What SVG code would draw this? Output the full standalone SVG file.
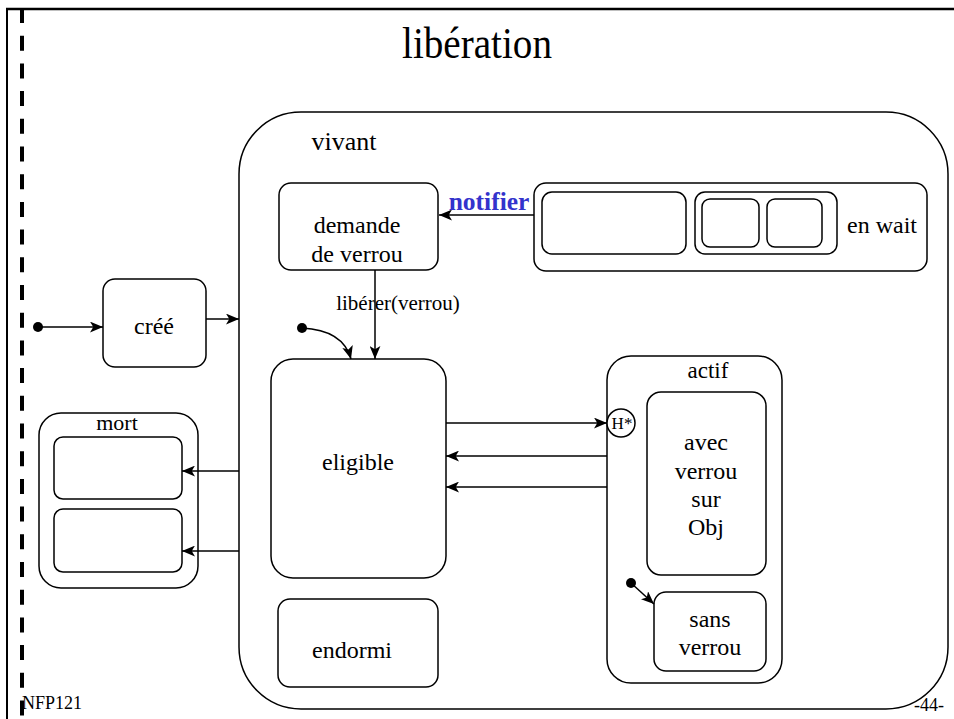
<svg xmlns="http://www.w3.org/2000/svg" width="954" height="719" viewBox="0 0 954 719">
<style>
.box{fill:none;stroke:#000;stroke-width:1.5}
.ln{fill:none;stroke:#000;stroke-width:1.5}
.t{font-family:"Liberation Serif","Times New Roman",serif;font-size:24px;fill:#000;text-anchor:middle}
.dot{fill:#000}
</style>
<defs>
<marker id="ah" viewBox="0 0 12 10" refX="12" refY="5" markerWidth="13" markerHeight="11" markerUnits="userSpaceOnUse" orient="auto">
<path d="M0,0 L12,5 L0,10 L3,5 z" fill="#000"/>
</marker>
</defs>
<rect width="954" height="719" fill="#fff"/>
<g id="frame" font-family="Liberation Serif, Times New Roman, serif">
<line x1="6" y1="9" x2="954" y2="9" stroke="#000" stroke-width="2.5"/>
<line x1="7" y1="8" x2="7" y2="719" stroke="#000" stroke-width="2"/>
<line x1="22" y1="10" x2="22" y2="719" stroke="#000" stroke-width="4" stroke-dasharray="15 12.7" stroke-dashoffset="2"/>
<text x="477" y="58" class="t" style="font-size:44px" textLength="150" lengthAdjust="spacingAndGlyphs">libération</text>
<text x="22" y="709" font-size="18">NFP121</text>
<text x="914" y="711" font-size="18">-44-</text>
</g>
<g id="vivant">
<rect class="box" x="239" y="112" width="709" height="597" rx="62"/>
<text class="t" x="344" y="150" style="font-size:26px">vivant</text>
</g>
<g id="cree">
<rect class="box" x="103" y="279" width="103" height="88" rx="12"/>
<text class="t" x="154" y="334">créé</text>
</g>
<g id="demande">
<rect class="box" x="279" y="183" width="159" height="87" rx="12"/>
<text class="t" x="357" y="233">demande</text>
<text class="t" x="357" y="262">de verrou</text>
</g>
<g id="enwait">
<rect class="box" x="534" y="183" width="393" height="88" rx="12"/>
<rect class="box" x="542" y="192" width="144" height="62" rx="10"/>
<rect class="box" x="695" y="192" width="142" height="62" rx="10"/>
<rect class="box" x="702" y="199" width="57" height="48" rx="8"/>
<rect class="box" x="767" y="199" width="55" height="48" rx="8"/>
<text class="t" x="882" y="233">en wait</text>
</g>
<g id="eligible">
<rect class="box" x="271" y="359" width="175" height="219" rx="22"/>
<text class="t" x="358" y="470">eligible</text>
</g>
<g id="endormi">
<rect class="box" x="278" y="599" width="160" height="88" rx="12"/>
<text class="t" x="352" y="658">endormi</text>
</g>
<g id="mort">
<rect class="box" x="39" y="413" width="159" height="175" rx="22"/>
<text class="t" x="117" y="430" style="font-size:22px">mort</text>
<rect class="box" x="54" y="437" width="128" height="62" rx="9"/>
<rect class="box" x="54" y="509" width="128" height="63" rx="9"/>
</g>
<g id="actif">
<rect class="box" x="607" y="356" width="175" height="327" rx="24"/>
<text class="t" x="708" y="378" style="font-size:23px">actif</text>
<circle cx="621" cy="423" r="14" fill="#fff" stroke="#000" stroke-width="1.5"/>
<text class="t" x="622" y="429" style="font-size:17px">H*</text>
</g>
<g id="avec">
<rect class="box" x="647" y="392" width="119" height="183" rx="14"/>
<text class="t" x="706" y="450">avec</text>
<text class="t" x="706" y="479">verrou</text>
<text class="t" x="706" y="507">sur</text>
<text class="t" x="706" y="535">Obj</text>
</g>
<g id="sans">
<rect class="box" x="654" y="592" width="112" height="79" rx="12"/>
<text class="t" x="710" y="627">sans</text>
<text class="t" x="710" y="655">verrou</text>
</g>
<g id="connectors">
<circle class="dot" cx="38" cy="327" r="5"/>
<line class="ln" x1="38" y1="327" x2="103" y2="327" marker-end="url(#ah)"/>
<line class="ln" x1="206" y1="319" x2="239" y2="319" marker-end="url(#ah)"/>
<line class="ln" x1="534" y1="215" x2="439" y2="215" marker-end="url(#ah)"/>
<text x="489" y="210" style="font-family:'Liberation Serif',serif;font-size:25.5px;font-weight:bold;fill:#3333cc;text-anchor:middle">notifier</text>
<line class="ln" x1="375" y1="270" x2="375" y2="359" marker-end="url(#ah)"/>
<text class="t" x="398" y="310" style="font-size:21px">libérer(verrou)</text>
<circle class="dot" cx="302" cy="328" r="5"/>
<path class="ln" d="M302,328 Q343,330 351,359" marker-end="url(#ah)"/>
<line class="ln" x1="446" y1="423" x2="607" y2="423" marker-end="url(#ah)"/>
<line class="ln" x1="607" y1="456" x2="446" y2="456" marker-end="url(#ah)"/>
<line class="ln" x1="607" y1="487" x2="446" y2="487" marker-end="url(#ah)"/>
<line class="ln" x1="239" y1="471" x2="182" y2="471" marker-end="url(#ah)"/>
<line class="ln" x1="239" y1="551" x2="182" y2="551" marker-end="url(#ah)"/>
<circle class="dot" cx="631" cy="583" r="5"/>
<line class="ln" x1="631" y1="583" x2="654" y2="604" marker-end="url(#ah)"/>
</g>
</svg>
